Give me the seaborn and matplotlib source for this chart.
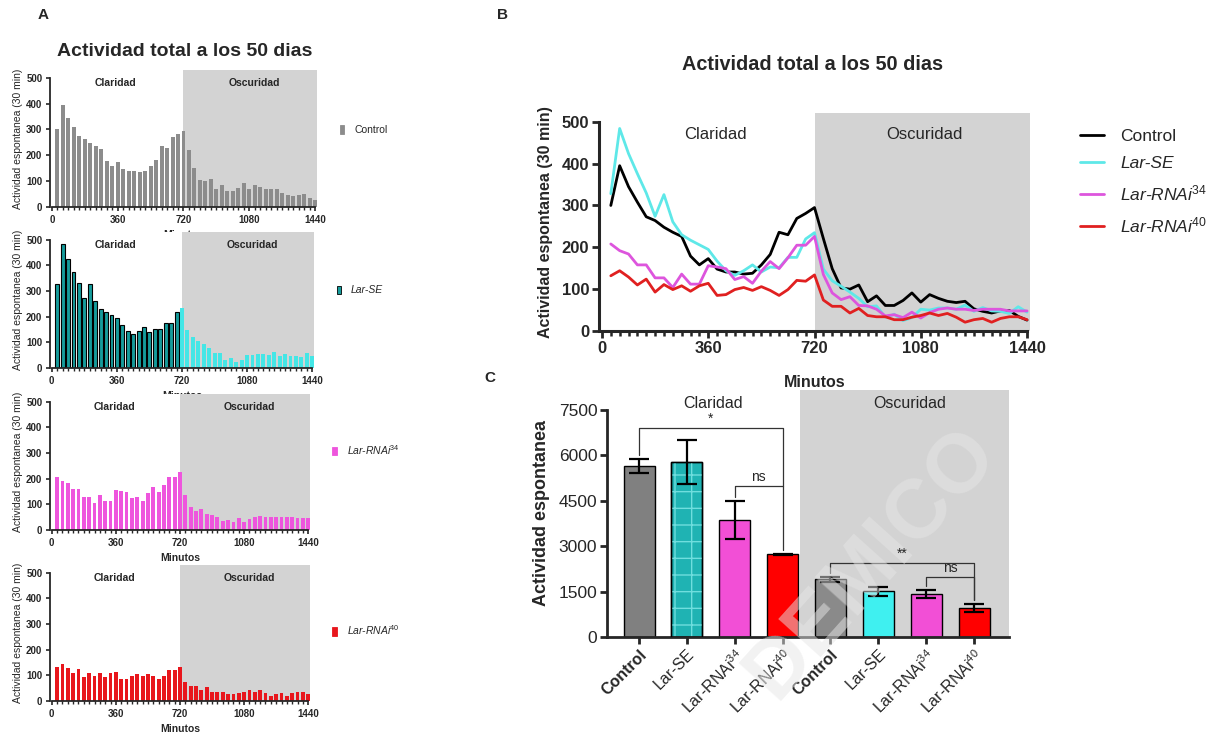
import matplotlib
matplotlib.use("Agg")
import numpy as np
import pandas as pd
import matplotlib.pyplot as plt
import seaborn as sns
from matplotlib.ticker import MultipleLocator
from matplotlib.patches import Patch
from matplotlib.lines import Line2D

sns.set_style("ticks")
plt.rcParams["font.family"] = ["Liberation Sans", "DejaVu Sans"]
plt.rcParams["mathtext.fontset"] = "custom"
plt.rcParams["mathtext.rm"] = "Liberation Sans"
plt.rcParams["mathtext.it"] = "Liberation Sans:italic"
plt.rcParams["mathtext.bf"] = "Liberation Sans:bold"

# ------------------------------------------------------
# datos (actividad por bloque de 30 min, 50 dias)
# ------------------------------------------------------
minutos = list(range(30, 1441, 30))

control = [300, 395, 345, 308, 273, 264, 248, 236, 226, 179, 158, 173, 148, 141, 141, 136, 138, 158, 183, 236, 230, 269, 281, 295,
           221, 149, 103, 100, 110, 70, 84, 61, 61, 73, 91, 69, 87, 78, 71, 68, 71, 53, 47, 43, 48, 49, 35, 26]
lar_se = [328, 484, 424, 376, 330, 274, 326, 261, 230, 217, 206, 195, 167, 144, 133, 144, 158, 141, 153, 151, 176, 176, 220, 235,
          148, 120, 107, 93, 78, 58, 60, 33, 40, 25, 32, 52, 50, 55, 55, 52, 62, 47, 56, 48, 47, 42, 58, 45]
rnai34 = [208, 192, 184, 158, 158, 127, 127, 104, 136, 112, 112, 156, 153, 149, 123, 130, 114, 143, 166, 149, 175, 205, 205, 226,
          135, 91, 75, 82, 61, 60, 52, 36, 39, 32, 45, 31, 44, 52, 55, 52, 52, 49, 52, 52, 52, 48, 48, 48]
rnai40 = [132, 144, 129, 110, 124, 93, 111, 99, 108, 95, 108, 114, 85, 87, 99, 104, 97, 106, 97, 85, 99, 121, 119, 134,
          74, 59, 59, 43, 54, 37, 34, 34, 27, 27, 33, 37, 43, 37, 42, 33, 21, 27, 30, 21, 30, 34, 34, 27]

grupos = ["Control", "Lar-SE", "Lar-RNAi$^{34}$", "Lar-RNAi$^{40}$"]
series = [control, lar_se, rnai34, rnai40]

# panel C: actividad total por fase (media +- EE)
etiquetas_c = grupos + grupos
fase_c = ["Claridad"] * 4 + ["Oscuridad"] * 4
total_media = [5640, 5770, 3860, 2730, 1900, 1510, 1420, 950]
total_ee = [230, 730, 630, 25, 75, 150, 120, 140]
# comparaciones: (barra i, barra j, altura, etiqueta)
comparaciones = [(0, 3, 6900, "*"), (2, 3, 5000, "ns"), (4, 7, 2450, "**"), (6, 7, 1985, "ns")]

# ------------------------------------------------------
# estilos
# ------------------------------------------------------
GRIS_FONDO = "#d3d3d3"
col_a = [("#8c8c8c", "#8c8c8c"), ("#169c9c", "#44e6e6"), ("#ee55dd", "#ee55dd"), ("#e8161c", "#e8161c")]
col_b = ["#000000", "#5ee8e8", "#dd55dd", "#e02020"]
col_c = ["#808080", "#1fb3b3", "#f24fd6", "#ff0000", "#8a8a8a", "#3ff0f0", "#f24fd6", "#ff0000"]

W, H = 1210, 736


def caja(left, top, right, bottom):
    return [left / W, 1 - bottom / H, (right - left) / W, (bottom - top) / H]


fig = plt.figure(figsize=(12.1, 7.36), dpi=100)

# ======================================================
# PANEL A
# ======================================================
cajas_a = [caja(50, 70, 317, 207), caja(50, 232, 314, 368), caja(50, 394, 310, 530), caja(50, 565, 310, 701)]
leg_y = [0.56, 0.57, 0.59, 0.52]

for k, (vals, (c_luz, c_osc)) in enumerate(zip(series, col_a)):
    ax = fig.add_axes(cajas_a[k])
    df = pd.DataFrame({
        "min": minutos,
        "act": vals,
        "fase": ["luz" if m < 720 else "osc" for m in minutos],
    })
    sns.barplot(data=df, x="min", y="act", hue="fase", palette={"luz": c_luz, "osc": c_osc},
                native_scale=True, dodge=False, legend=False, width=0.72, ax=ax,
                linewidth=0, saturation=1, zorder=2)
    if k == 1:
        for p in ax.patches:
            if p.get_x() + p.get_width() / 2 < 720:
                p.set_edgecolor("black")
                p.set_linewidth(0.8)
    ax.axvspan(720, 1460, color=GRIS_FONDO, zorder=0, lw=0)
    ax.set_xlim(-10, 1450)
    ax.set_ylim(0, 530)
    ax.set_xticks([0, 360, 720, 1080, 1440])
    ax.xaxis.set_minor_locator(MultipleLocator(30))
    ax.set_yticks([0, 100, 200, 300, 400, 500])
    ax.spines["left"].set_bounds(0, 500)
    ax.spines["bottom"].set_bounds(0, 1440)
    sns.despine(ax=ax)
    for s in ["left", "bottom"]:
        ax.spines[s].set_linewidth(1.3)
    ax.tick_params(axis="both", which="major", length=3, width=1.2, labelsize=7, pad=2.5)
    ax.tick_params(axis="x", which="minor", length=2, width=1.0)
    for lab in ax.get_xticklabels() + ax.get_yticklabels():
        lab.set_fontweight("bold")
    ax.set_ylabel("Actividad espontanea (30 min)", fontsize=7.5, labelpad=2)
    ax.set_xlabel("Minutos", fontsize=7.5, fontweight="bold", labelpad=4)
    ax.text(350, 480, "Claridad", ha="center", va="center", fontsize=7.5, fontweight="bold")
    ax.text(1110, 480, "Oscuridad", ha="center", va="center", fontsize=7.5, fontweight="bold")
    handle = Patch(facecolor=c_luz, edgecolor="black" if k == 1 else c_luz, linewidth=0.6)
    leg = ax.legend(handles=[handle], labels=[grupos[k]], loc="center left",
                    bbox_to_anchor=(1.05, leg_y[k]), frameon=False, fontsize=7.5,
                    handlelength=0.4, handleheight=0.9, handletextpad=1.0)
    if k > 0:
        for t in leg.get_texts():
            t.set_style("italic")

fig.text(185 / W, 1 - 52 / H, "Actividad total a los 50 dias", ha="center", va="center",
         fontsize=14, fontweight="bold")

# ======================================================
# PANEL B
# ======================================================
axb = fig.add_axes(caja(599, 113, 1030, 331))
df_b = pd.DataFrame({
    "min": minutos * 4,
    "act": control + lar_se + rnai34 + rnai40,
    "grupo": sum([[g] * len(minutos) for g in grupos], []),
})
sns.lineplot(data=df_b, x="min", y="act", hue="grupo", palette=dict(zip(grupos, col_b)),
             linewidth=2, legend=False, ax=axb, zorder=3)
axb.axvspan(720, 1460, color=GRIS_FONDO, zorder=0, lw=0)
axb.set_xlim(-10, 1450)
axb.set_ylim(0, 521)
axb.set_xticks([0, 360, 720, 1080, 1440])
axb.xaxis.set_minor_locator(MultipleLocator(30))
axb.set_yticks([0, 100, 200, 300, 400, 500])
axb.spines["left"].set_bounds(0, 500)
axb.spines["bottom"].set_bounds(0, 1440)
sns.despine(ax=axb)
for s in ["left", "bottom"]:
    axb.spines[s].set_linewidth(2.2)
axb.tick_params(axis="both", which="major", length=5, width=2, labelsize=12, pad=2)
axb.tick_params(axis="x", which="minor", length=3.5, width=1.8)
for lab in axb.get_xticklabels() + axb.get_yticklabels():
    lab.set_fontweight("bold")
axb.set_ylabel("Actividad espontanea (30 min)", fontsize=11.5, fontweight="bold", labelpad=6)
axb.set_xlabel("Minutos", fontsize=11.5, fontweight="bold", labelpad=14)
axb.text(383, 469, "Claridad", ha="center", va="center", fontsize=12)
axb.text(1094, 469, "Oscuridad", ha="center", va="center", fontsize=12)
handles_b = [Line2D([0], [0], color=c, lw=2) for c in col_b]
leg_b = axb.legend(handles_b, grupos, loc="upper left", bbox_to_anchor=(1.08, 1.0), frameon=False,
                   fontsize=12.5, handlelength=1.4, handletextpad=0.9, labelspacing=0.7)
for t in leg_b.get_texts()[1:]:
    t.set_style("italic")

fig.text(813 / W, 1 - 65 / H, "Actividad total a los 50 dias", ha="center", va="center",
         fontsize=14.3, fontweight="bold")

# ======================================================
# PANEL C
# ======================================================
axc = fig.add_axes(caja(607, 390, 1009, 637))
df_c = pd.DataFrame({"pos": [str(i) for i in range(8)], "media": total_media, "fase": fase_c})
sns.barplot(data=df_c, x="pos", y="media", hue="pos", palette=col_c, legend=False, saturation=1,
            width=0.65, edgecolor="black", linewidth=1.0, ax=axc, zorder=2)
axc.errorbar(range(8), total_media, yerr=total_ee, fmt="none", ecolor="black",
             elinewidth=1.6, capsize=7, capthick=1.6, zorder=4)

# cuadro escoces sobre la barra Lar-SE (claridad)
p = axc.patches[1]
axc.bar(p.get_x() + p.get_width() / 2, p.get_height(), width=p.get_width(), facecolor="none",
        edgecolor="#6fdede", hatch="+", linewidth=0, zorder=2.5)
axc.bar(p.get_x() + p.get_width() / 2, p.get_height(), width=p.get_width(), facecolor="none",
        edgecolor="black", linewidth=1.0, zorder=2.6)

axc.axvspan(3.36, 7.8, color=GRIS_FONDO, zorder=0, lw=0)
axc.set_xlim(-0.67, 7.73)
axc.set_ylim(0, 8160)
axc.set_yticks([0, 1500, 3000, 4500, 6000, 7500])
axc.spines["left"].set_bounds(0, 7500)
sns.despine(ax=axc)
for s in ["left", "bottom"]:
    axc.spines[s].set_linewidth(2)
axc.tick_params(axis="both", length=5, width=2, labelsize=12.5, pad=2)
axc.set_xticks(range(8))
axc.set_xticklabels(etiquetas_c, rotation=45, ha="right", rotation_mode="anchor", fontsize=11.5)
for i, lab in enumerate(axc.get_xticklabels()):
    if i % 4 == 0:
        lab.set_fontweight("bold")
axc.set_xlabel("")
axc.set_ylabel("Actividad espontanea", fontsize=13, fontweight="bold", labelpad=6)
axc.text(1.55, 7730, "Claridad", ha="center", va="center", fontsize=11.5)
axc.text(5.66, 7730, "Oscuridad", ha="center", va="center", fontsize=11.5)

# marca de agua
fig.text(0.72, 0.235, "DEMICO", rotation=48, fontsize=60, fontweight="bold",
         color="#e6e6e6", alpha=0.5, ha="center", va="center", zorder=10)

# corchetes de significancia (los textos por encima de la marca de agua)
for i, j, y, txt in comparaciones:
    y_i = total_media[i] + total_ee[i] + 130
    y_j = total_media[j] + total_ee[j] + 130
    if (i, j) == (2, 3):
        axc.plot([i, i, j], [y_i, y, y], color="#333333", lw=0.9, zorder=5)
    else:
        axc.plot([i, i, j, j], [y_i, y, y, y_j], color="#333333", lw=0.9, zorder=5)
    fig.text((i + j) / 2, y + 70, txt, ha="center", va="bottom", fontsize=10,
             transform=axc.transData, zorder=12)

# letras de panel
fig.text(38 / W, 1 - 15 / H, "A", fontsize=11, fontweight="bold", va="center")
fig.text(497 / W, 1 - 15 / H, "B", fontsize=11, fontweight="bold", va="center")
fig.text(484 / W, 1 - 378 / H, "C", fontsize=11, fontweight="bold", va="center")

fig.savefig("out.png", dpi=100)
